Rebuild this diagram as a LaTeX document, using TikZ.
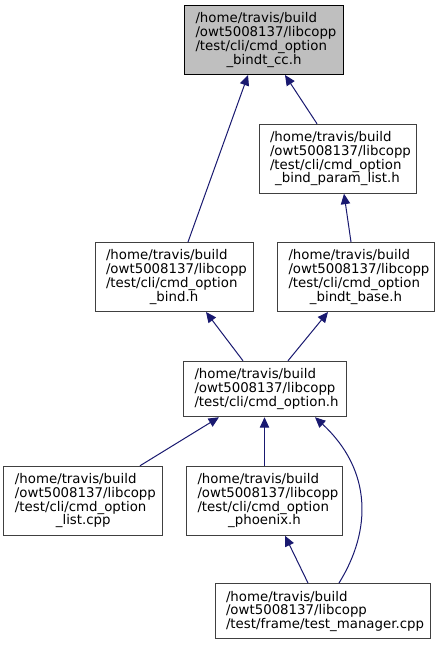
\documentclass[tikz,border=0pt]{standalone}
\usepackage{fontspec}
\setmainfont{DejaVu Sans}
\usetikzlibrary{arrows.meta,calc}
\setlength{\parindent}{0pt}
\definecolor{edgeblue}{HTML}{191970}
\definecolor{boxgray}{HTML}{404040}
\definecolor{rootfill}{HTML}{BFBFBF}
\newcommand{\lastline}[1]{\makebox[\hsize]{#1}}
\begin{document}
\begin{tikzpicture}[x=0.75pt,y=-0.75pt,
  box/.style={draw=boxgray, line width=0.75pt, fill=white, align=left,
    inner xsep=8.25pt, inner ysep=0pt, font=\fontsize{10pt}{10.3pt}\selectfont},
  four/.style={minimum height=51.75pt},
  three/.style={minimum height=41.6pt},
  edge/.style={draw=edgeblue, line width=0.75pt, -{Triangle[length=7.8pt,width=7pt]}}
]
\useasboundingbox[fill=white] (0,0) rectangle (440,645);

\node[box,four,text width=102.75pt,fill=rootfill,draw=black] (b1) at (264,40)
  {/home/travis/build\\/owt5008137/libcopp\\/test/cli/cmd\_option\\\lastline{\_bindt\_cc.h}};
\node[box,four,text width=101.25pt] (b2) at (337.5,158.75)
  {/home/travis/build\\/owt5008137/libcopp\\/test/cli/cmd\_option\\\lastline{\_bind\_param\_list.h}};
\node[box,four,text width=102pt] (b3) at (174,277)
  {/home/travis/build\\/owt5008137/libcopp\\/test/cli/cmd\_option\\\lastline{\_bind.h}};
\node[box,four,text width=101.25pt] (b4) at (356,277)
  {/home/travis/build\\/owt5008137/libcopp\\/test/cli/cmd\_option\\\lastline{\_bindt\_base.h}};
\node[box,three,text width=105.75pt] (b5) at (265,389)
  {/home/travis/build\\/owt5008137/libcopp\\/test/cli/cmd\_option.h};
\node[box,four,text width=102.4pt] (b6) at (83.25,500.75)
  {/home/travis/build\\/owt5008137/libcopp\\/test/cli/cmd\_option\\\lastline{\_list.cpp}};
\node[box,four,text width=100.5pt] (b7) at (264.5,500.75)
  {/home/travis/build\\/owt5008137/libcopp\\/test/cli/cmd\_option\\\lastline{\_phoenix.h}};
\node[box,three,text width=144.75pt] (b8) at (322.5,611.25)
  {/home/travis/build\\/owt5008137/libcopp\\/test/frame/test\_manager.cpp};

\draw[edge] ($(b3.north)+(14,0)$) -- ($(b1.south)+(-16,0)$);
\draw[edge] ($(b2.north)+(-20.5,0)$) -- ($(b1.south)+(21,0)$);
\draw[edge] ($(b4.north)+(-5,0)$) -- ($(b2.south)+(6.5,0)$);
\draw[edge] ($(b5.north)+(-22,0)$) -- ($(b3.south)+(32,0)$);
\draw[edge] ($(b5.north)+(23,0)$) -- ($(b4.south)+(-28,0)$);
\draw[edge] ($(b6.north)+(56.75,0)$) -- ($(b5.south)+(-46,0)$);
\draw[edge] (b7.north) -- (b7.north |- b5.south);
\draw[edge] ($(b8.north)+(16.5,0)$) .. controls (372,530) and (372,470) .. ($(b5.south)+(50,0)$);
\draw[edge] ($(b8.north)+(-14.5,0)$) -- ($(b7.south)+(20.5,0)$);
\end{tikzpicture}
\end{document}
